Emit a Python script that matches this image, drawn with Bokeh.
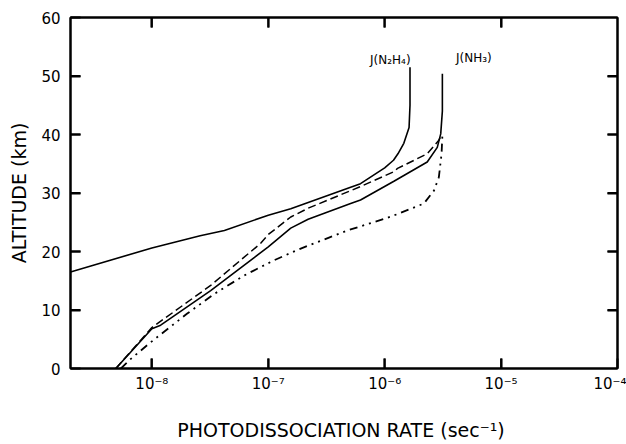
import math
from bokeh.plotting import figure
from bokeh.models import (LogAxis, LinearAxis, FixedTicker, CustomJSTickFormatter,
                          Label, Range1d)
from bokeh.embed import file_html
from bokeh.resources import INLINE

# ---------------- data ----------------
x_ticks = [1e-8, 1e-7, 1e-6, 1e-5, 1e-4]
x_tick_labels = ["10⁻⁸", "10⁻⁷", "10⁻⁶", "10⁻⁵", "10⁻⁴"]
top_ticks = [1e-8, 1e-7, 1e-6, 1e-5]
y_ticks = [0, 10, 20, 30, 40, 50, 60]
y_tick_labels = ["0", "10", "20", "30", "40", "50", "60"]
right_ticks = [10, 20, 30, 40, 50]
x_limits = [2e-9, 1e-4]
y_limits = [0, 60]

# J(N2H4) - solid (upper)
n2h4_rate = [2.0e-9, 1.0e-8, 2.6e-8, 4.2e-8, 1.0e-7, 1.56e-7, 5.1e-7, 6.2e-7,
             1.0e-6, 1.19e-6, 1.3e-6, 1.46e-6, 1.62e-6, 1.65e-6, 1.65e-6]
n2h4_alt = [16.5, 20.6, 22.7, 23.6, 26.2, 27.3, 31.0, 31.6,
            34.3, 35.6, 36.7, 38.5, 41.2, 45.0, 51.5]

# J(NH3) - solid
nh3_rate = [4.9e-9, 1.0e-8, 1.19e-8, 3.2e-8, 1.0e-7, 1.56e-7, 2.2e-7, 5.1e-7, 6.2e-7,
            1.2e-6, 2.32e-6, 2.83e-6, 3.03e-6, 3.13e-6, 3.13e-6]
nh3_alt = [0.0, 6.8, 7.4, 13.3, 20.8, 24.0, 25.5, 28.2, 28.8,
           32.0, 35.3, 37.8, 40.1, 44.0, 50.4]

# dashed curve
dash_rate = [4.9e-9, 1.0e-8, 3.2e-8, 8.6e-8, 1.0e-7, 1.56e-7, 2.2e-7, 5.1e-7, 6.2e-7,
             1.19e-6, 1.29e-6, 2.32e-6, 2.92e-6, 3.08e-6]
dash_alt = [0.0, 7.0, 14.2, 21.4, 22.9, 25.9, 27.4, 30.4, 31.1,
            33.6, 34.2, 36.7, 39.0, 40.0]

# dash-dot-dot curve
dd_rate = [5.42e-9, 6.6e-9, 9.8e-9, 2.0e-8, 3.47e-8, 6.2e-8, 1.12e-7, 1.9e-7,
           4.8e-7, 1.0e-6, 1.29e-6, 2.17e-6, 2.65e-6, 2.92e-6, 3.08e-6, 3.13e-6]
dd_alt = [0.0, 1.65, 4.5, 9.35, 12.8, 15.9, 18.5, 20.5,
          23.6, 25.6, 26.4, 28.2, 30.4, 32.7, 36.7, 39.8]

FONT = "DejaVu Sans"
FRAME_W, FRAME_H, TICK_PX = 547, 351, 10

p = figure(width=626, height=444, x_axis_type="log",
           x_range=Range1d(*x_limits), y_range=Range1d(*y_limits),
           output_backend="svg", toolbar_location=None,
           min_border_left=70, min_border_right=9,
           min_border_top=17, min_border_bottom=76)

p.xgrid.visible = False
p.ygrid.visible = False
p.outline_line_color = "black"
p.outline_line_width = 2
p.background_fill_color = "white"
p.border_fill_color = "white"

fmt_x = CustomJSTickFormatter(args=dict(tvals=x_ticks, tlabels=x_tick_labels), code="""
let best = 0, bd = 1e9;
for (let i = 0; i < tvals.length; i++) {
  const d = Math.abs(Math.log10(tick) - Math.log10(tvals[i]));
  if (d < bd) { bd = d; best = i; }
}
return tlabels[best];
""")
fmt_y = CustomJSTickFormatter(args=dict(tvals=y_ticks, tlabels=y_tick_labels), code="""
let best = 0, bd = 1e9;
for (let i = 0; i < tvals.length; i++) {
  const d = Math.abs(tick - tvals[i]);
  if (d < bd) { bd = d; best = i; }
}
return tlabels[best];
""")
blank = CustomJSTickFormatter(code="return '';")

xa = p.xaxis[0]
xa.ticker = FixedTicker(ticks=x_ticks)
xa.formatter = fmt_x
ya = p.yaxis[0]
ya.ticker = FixedTicker(ticks=y_ticks)
ya.formatter = fmt_y

for ax in (xa, ya):
    ax.major_tick_in = TICK_PX
    ax.major_tick_out = 0
    ax.minor_tick_line_color = None
    ax.major_tick_line_width = 2
    ax.axis_line_width = 2
    ax.axis_line_color = "black"
    ax.major_label_text_font = FONT
    ax.major_label_text_font_size = "15px"
    ax.major_label_text_color = "black"
    ax.axis_label_text_font = FONT
    ax.axis_label_text_font_size = "19px"
    ax.axis_label_text_font_style = "normal"
    ax.axis_label_text_color = "black"

xa.axis_label = "PHOTODISSOCIATION  RATE (sec⁻¹)"
xa.major_label_standoff = 6
xa.axis_label_standoff = 23
ya.axis_label = "ALTITUDE (km)"
ya.major_label_standoff = 10
ya.axis_label_standoff = 8

top = LogAxis(ticker=FixedTicker(ticks=top_ticks), formatter=blank,
              major_tick_in=TICK_PX, major_tick_out=0, minor_tick_line_color=None,
              major_tick_line_width=2, axis_line_width=2, major_label_standoff=0)
right = LinearAxis(ticker=FixedTicker(ticks=right_ticks), formatter=blank,
                   major_tick_in=TICK_PX, major_tick_out=0, minor_tick_line_color=None,
                   major_tick_line_width=2, axis_line_width=2, major_label_standoff=0)
p.add_layout(top, "above")
p.add_layout(right, "right")

# inward tick marks as short segments (length converted from pixels to data units)
dy = (y_limits[1] - y_limits[0]) * TICK_PX / FRAME_H
fx = 10 ** (math.log10(x_limits[1] / x_limits[0]) * TICK_PX / FRAME_W)
seg_kw = dict(line_color="black", line_width=2)
bt = x_ticks[:-1]
p.segment(x0=bt, y0=[y_limits[0]] * len(bt), x1=bt, y1=[y_limits[0] + dy] * len(bt), **seg_kw)
p.segment(x0=top_ticks, y0=[y_limits[1]] * len(top_ticks), x1=top_ticks,
          y1=[y_limits[1] - dy] * len(top_ticks), **seg_kw)
lt = y_ticks[1:-1]
p.segment(x0=[x_limits[0]] * len(lt), y0=lt, x1=[x_limits[0] * fx] * len(lt), y1=lt, **seg_kw)
p.segment(x0=[x_limits[1]] * len(right_ticks), y0=right_ticks,
          x1=[x_limits[1] / fx] * len(right_ticks), y1=right_ticks, **seg_kw)

p.line(n2h4_rate, n2h4_alt, line_color="black", line_width=1.6)
p.line(nh3_rate, nh3_alt, line_color="black", line_width=1.6)
p.line(dash_rate, dash_alt, line_color="black", line_width=1.5, line_dash="8 4")
p.line(dd_rate, dd_alt, line_color="black", line_width=1.8, line_dash="8 5 2 5 2 5")

p.add_layout(Label(x=1.67e-6, y=51.6, text="J(N₂H₄)", text_align="right",
                   text_font=FONT, text_font_size="12px", text_color="black"))
p.add_layout(Label(x=4.1e-6, y=51.9, text="J(NH₃)", text_align="left",
                   text_font=FONT, text_font_size="12px", text_color="black"))

open("out.html", "w").write(file_html(p, INLINE))
